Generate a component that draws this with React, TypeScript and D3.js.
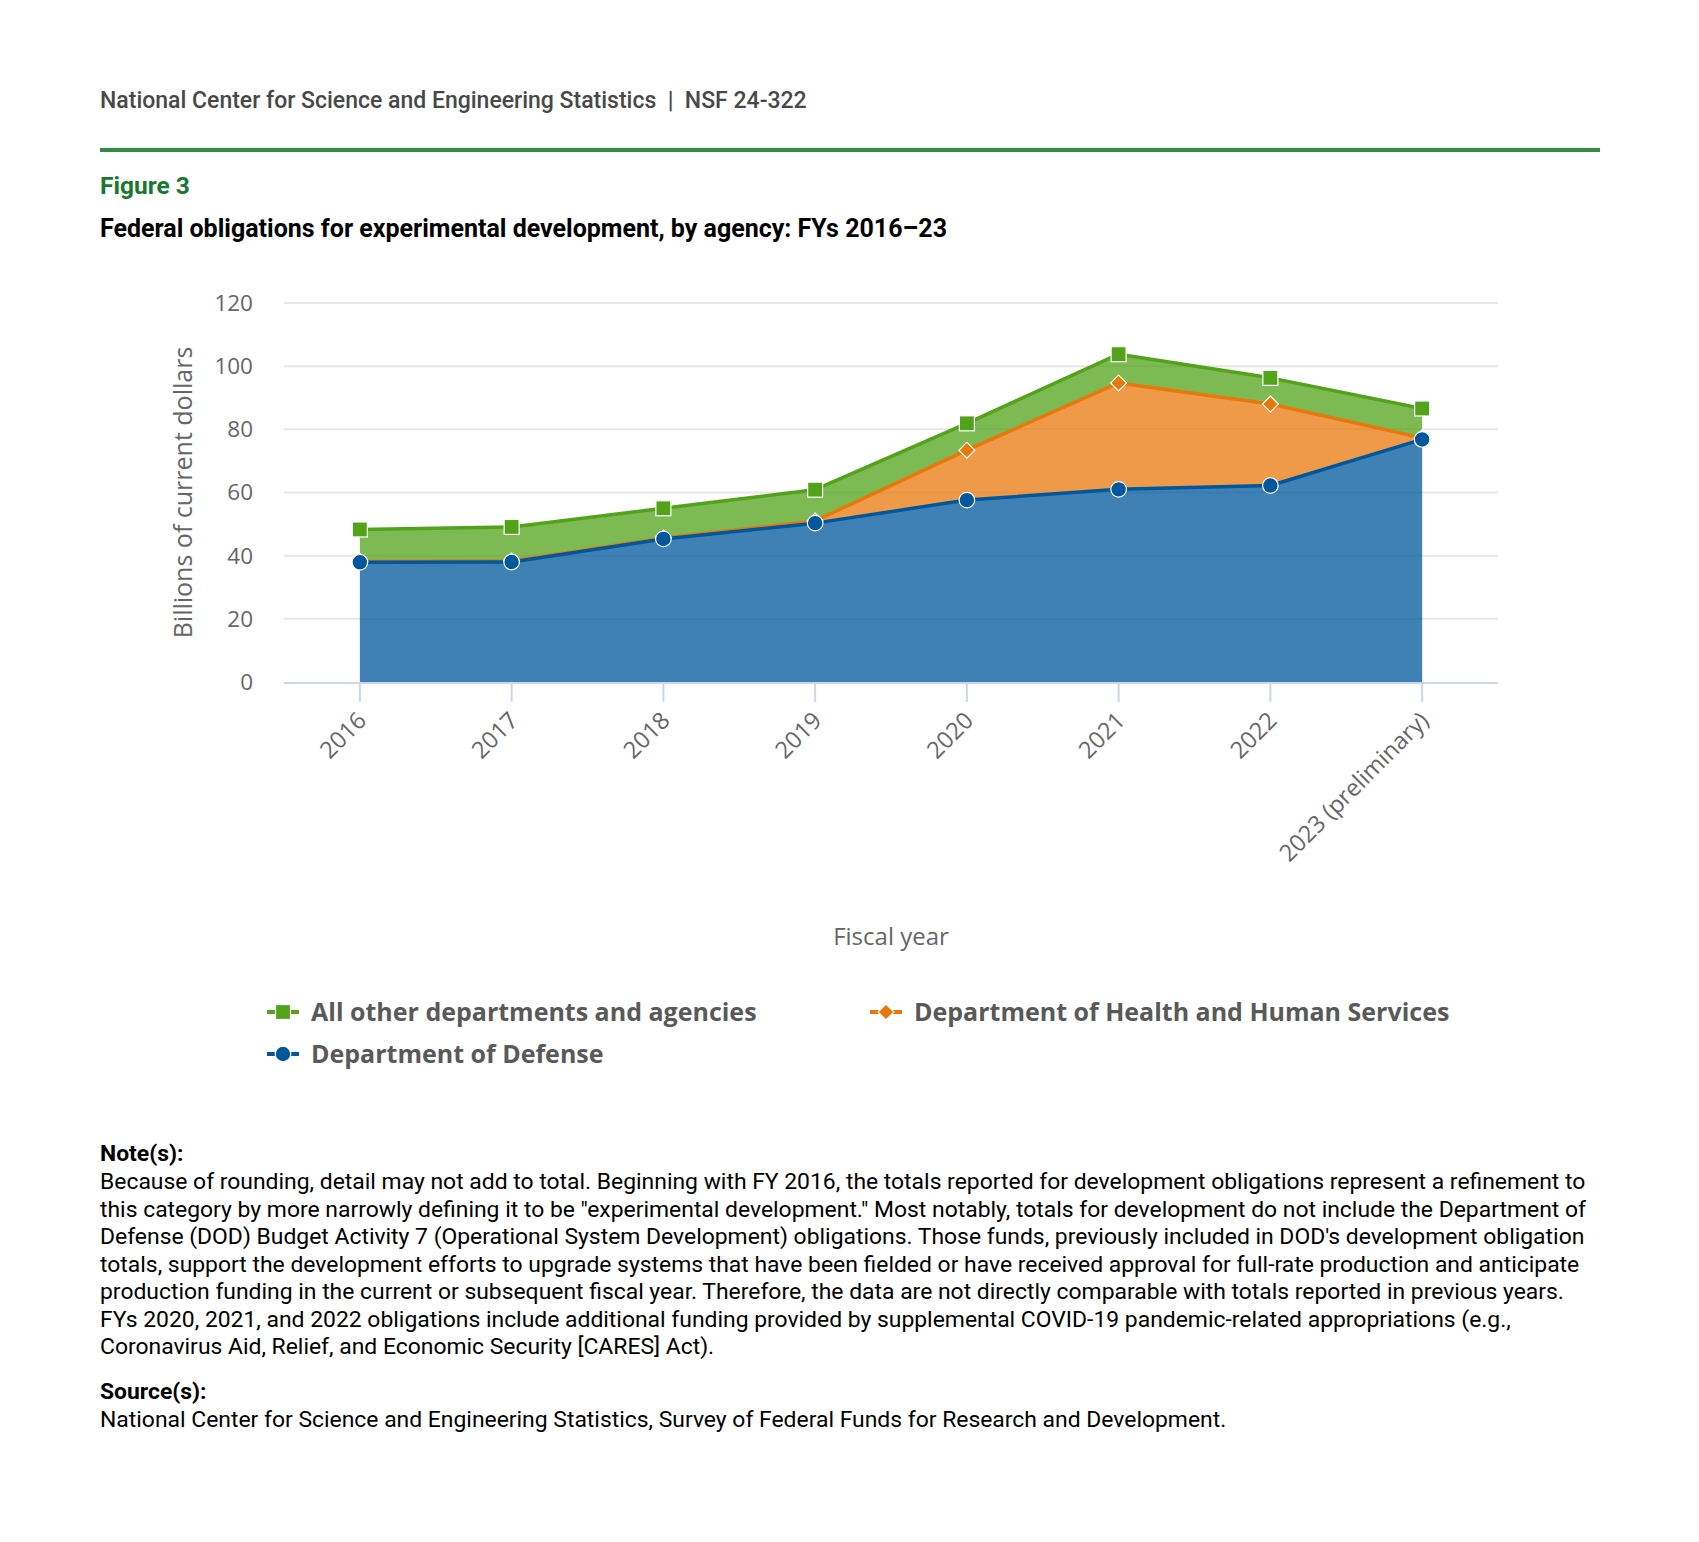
import React from 'react';
import { scaleBand, scaleLinear, stack, area, line } from 'd3';

const years = ['2016', '2017', '2018', '2019', '2020', '2021', '2022', '2023 (preliminary)'];
const dod = [37.9, 38.0, 45.3, 50.3, 57.6, 61.0, 62.2, 76.8];
const hhs = [0.3, 0.3, 0.3, 0.7, 15.8, 33.7, 25.8, 0.5];
const other = [10.1, 10.8, 9.4, 9.9, 8.5, 9.1, 8.3, 9.3];
const yTicks = [0, 20, 40, 60, 80, 100, 120];

const noteLines = [
  'Because of rounding, detail may not add to total. Beginning with FY 2016, the totals reported for development obligations represent a refinement to',
  'this category by more narrowly defining it to be "experimental development." Most notably, totals for development do not include the Department of',
  "Defense (DOD) Budget Activity 7 (Operational System Development) obligations. Those funds, previously included in DOD's development obligation",
  'totals, support the development efforts to upgrade systems that have been fielded or have received approval for full-rate production and anticipate',
  'production funding in the current or subsequent fiscal year. Therefore, the data are not directly comparable with totals reported in previous years.',
  'FYs 2020, 2021, and 2022 obligations include additional funding provided by supplemental COVID-19 pandemic-related appropriations (e.g.,',
  'Coronavirus Aid, Relief, and Economic Security [CARES] Act).',
];

const series = [
  { key: 'dod', name: 'Department of Defense', color: '#00579c', marker: 'circle' },
  { key: 'hhs', name: 'Department of Health and Human Services', color: '#e8780c', marker: 'diamond' },
  { key: 'other', name: 'All other departments and agencies', color: '#52a31a', marker: 'square' },
];

const W = 1699;
const H = 1542;
const plot = { left: 284, right: 1498, top: 303, bottom: 682 };
const chartFont = '"Open Sans", sans-serif';
const textFont = 'Roboto, sans-serif';

function Marker({ type, x, y, color }: { type: string; x: number; y: number; color: string }) {
  if (type === 'square') {
    return <rect x={x - 7.5} y={y - 7.5} width={15} height={15} fill={color} stroke="#fff" strokeWidth={1.2} />;
  }
  if (type === 'diamond') {
    return (
      <rect
        x={-5.6}
        y={-5.6}
        width={11.2}
        height={11.2}
        transform={`translate(${x},${y}) rotate(45)`}
        fill={color}
        stroke="#fff"
        strokeWidth={1.2}
      />
    );
  }
  return <circle cx={x} cy={y} r={7.8} fill={color} stroke="#fff" strokeWidth={1.2} />;
}

export default function App() {
  const x = scaleBand().domain(years).range([plot.left, plot.right]).padding(0);
  const cx = (d: string) => (x(d) as number) + x.bandwidth() / 2;
  const y = scaleLinear().domain([0, 120]).range([plot.bottom, plot.top]);

  const rows = years.map((yr, i) => ({ year: yr, dod: dod[i], hhs: hhs[i], other: other[i] }));
  const layers = stack<any>().keys(series.map(s => s.key))(rows);

  const areaGen = area<any>()
    .x(d => cx(d.data.year))
    .y0(d => y(d[0]))
    .y1(d => y(d[1]));
  const lineGen = line<any>()
    .x(d => cx(d.data.year))
    .y(d => y(d[1]));

  // draw order as in the source chart: top series first, DOD last
  const drawOrder = [2, 1, 0];

  const legendItems = [
    { s: series[2], x: 267, y: 1012 },
    { s: series[1], x: 870, y: 1012 },
    { s: series[0], x: 267, y: 1054 },
  ];

  return (
    <svg width={W} height={H} style={{ position: 'absolute', left: 0, top: 0, background: '#fff' }}>
      <rect width={W} height={H} fill="#fff" />
      {/* header */}
      <text x={100} y={108} fontFamily={textFont} fontSize={23} fontWeight={500} fill="#484848" xmlSpace="preserve">
        {'National Center for Science and Engineering Statistics  |  NSF 24-322'}
      </text>
      <rect x={100} y={148} width={1500} height={4} fill="#348a44" />
      <text x={100} y={194} fontFamily={textFont} fontSize={24.5} fontWeight="bold" fill="#17782f">
        Figure 3
      </text>
      <text x={100} y={237} fontFamily={textFont} fontSize={25} fontWeight="bold" fill="#000">
        Federal obligations for experimental development, by agency: FYs 2016–23
      </text>

      {/* grid */}
      {yTicks.filter(t => t > 0).map(t => (
        <line key={t} x1={plot.left} x2={plot.right} y1={y(t)} y2={y(t)} stroke="#e6e6e6" strokeWidth={2} />
      ))}
      {yTicks.map(t => (
        <text key={t} x={253} y={y(t)} dy="0.35em" textAnchor="end" fontFamily={chartFont} fontSize={22.5} fill="#666">
          {t}
        </text>
      ))}
      <text
        transform={`translate(183,${(plot.top + plot.bottom) / 2}) rotate(-90)`}
        textAnchor="middle"
        dy="0.35em"
        fontFamily={chartFont}
        fontSize={25}
        fill="#666"
      >
        Billions of current dollars
      </text>

      {/* areas */}
      {drawOrder.map(i => (
        <path key={'a' + i} d={areaGen(layers[i]) as string} fill={series[i].color} fillOpacity={0.75} />
      ))}
      {drawOrder.map(i => (
        <path key={'l' + i} d={lineGen(layers[i]) as string} fill="none" stroke={series[i].color} strokeWidth={3.5} strokeLinejoin="round" />
      ))}

      {/* x axis */}
      <line x1={plot.left} x2={plot.right} y1={plot.bottom + 1} y2={plot.bottom + 1} stroke="#ccd6eb" strokeWidth={2} />
      {years.map(yr => (
        <line key={yr} x1={cx(yr)} x2={cx(yr)} y1={plot.bottom} y2={plot.bottom + 20} stroke="#ccd6eb" strokeWidth={2} />
      ))}
      {years.map(yr => (
        <text
          key={yr}
          transform={`translate(${cx(yr) + 8},${plot.bottom + 40}) rotate(-45)`}
          textAnchor="end"
          fontFamily={chartFont}
          fontSize={23.5}
          fill="#666"
        >
          {yr}
        </text>
      ))}
      <text x={(plot.left + plot.right) / 2} y={945} textAnchor="middle" fontFamily={chartFont} fontSize={24} fill="#666">
        Fiscal year
      </text>

      {/* markers */}
      {drawOrder.map(i =>
        layers[i].map((d: any) => (
          <Marker key={series[i].key + d.data.year} type={series[i].marker} x={cx(d.data.year)} y={y(d[1])} color={series[i].color} />
        ))
      )}

      {/* legend */}
      {legendItems.map(({ s, x: lx, y: ly }) => (
        <g key={s.key}>
          <line x1={lx} x2={lx + 32} y1={ly} y2={ly} stroke={s.color} strokeWidth={4} />
          <Marker type={s.marker} x={lx + 16} y={ly} color={s.color} />
          <text x={lx + 44} y={ly} dy="0.35em" fontFamily={chartFont} fontSize={25} fontWeight="bold" fill="#595959">
            {s.name}
          </text>
        </g>
      ))}

      {/* notes */}
      <text x={100} y={1161} fontFamily={textFont} fontSize={22.9} fontWeight="bold" fill="#000">
        Note(s):
      </text>
      {noteLines.map((l, i) => (
        <text key={i} x={100} y={1189 + i * 27.5} fontFamily={textFont} fontSize={22.9} fill="#000">
          {l}
        </text>
      ))}
      <text x={100} y={1399} fontFamily={textFont} fontSize={22.9} fontWeight="bold" fill="#000">
        Source(s):
      </text>
      <text x={100} y={1427} fontFamily={textFont} fontSize={22.9} fill="#000">
        National Center for Science and Engineering Statistics, Survey of Federal Funds for Research and Development.
      </text>
    </svg>
  );
}
